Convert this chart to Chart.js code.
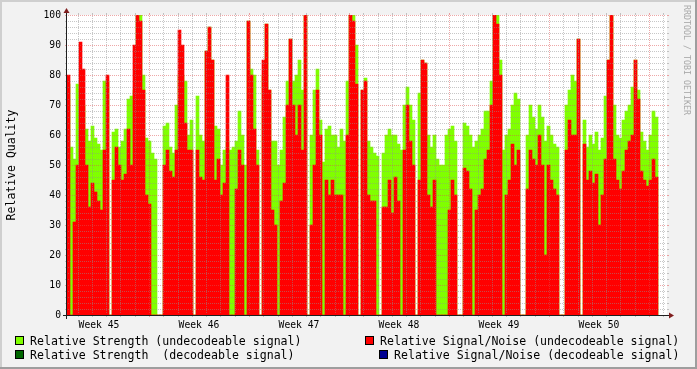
<!DOCTYPE html>
<html><head><meta charset="utf-8">
<script src="https://cdn.jsdelivr.net/npm/chart.js@4/dist/chart.umd.min.js"></script>
<style>
html,body{margin:0;padding:0;background:#F2F2F2;}
#wrap{position:relative;width:697px;height:369px;overflow:hidden;}
canvas{position:absolute;left:0;top:0;}
.t{position:absolute;font-family:"DejaVu Sans Mono",monospace;font-size:11.57px;white-space:pre;color:#000;line-height:13px;}
.bx{position:absolute;width:7px;height:7px;border:1px solid #000;}
.rot{position:absolute;font-family:"DejaVu Sans Mono",monospace;white-space:pre;transform-origin:center center;}
</style></head>
<body><div id="wrap">
<canvas id="c" width="697" height="369"></canvas>
<div class="rot" id="ytitle" style="font-size:11.5px;color:#000;left:-45px;top:158px;width:112px;text-align:center;transform:rotate(-90deg);">Relative Quality</div>
<div class="rot" id="wm" style="font-size:8.3px;color:#A8A8A8;left:632px;top:55px;width:110px;text-align:center;transform:rotate(90deg);">RRDTOOL / TOBI OETIKER</div>
<div class="bx" style="left:15px;top:336px;background:#80FF00"></div>
<div class="t" style="left:30px;top:335px">Relative Strength (undecodeable signal)</div>
<div class="bx" style="left:15px;top:350px;background:#006600"></div>
<div class="t" style="left:30px;top:349px">Relative Strength  (decodeable signal)</div>
<div class="bx" style="left:365px;top:336px;background:#FF0000"></div>
<div class="t" style="left:380px;top:335px">Relative Signal/Noise (undecodeable signal)</div>
<div class="bx" style="left:379px;top:350px;background:#000090"></div>
<div class="t" style="left:394px;top:349px">Relative Signal/Noise (decodeable signal)</div>
</div>
<script>
// ---- data (one value per sample, sampled every 5.04 h) ----
const weekLabels = ["Week 45","Week 46","Week 47","Week 48","Week 49","Week 50"];
const yTicks = [0,10,20,30,40,50,60,70,80,90,100];
const snrUndecodeable = [
80,0,31,50,91,82,50,36,44,41,38,35,55,80,0,45,56,50,45,47,
62,50,90,100,98,75,40,37,0,0,0,0,50,55,48,46,55,95,90,64,
55,55,0,55,46,45,88,96,85,45,52,40,44,80,0,0,42,55,50,0,
98,80,62,50,0,85,97,75,35,30,0,38,44,70,92,70,60,70,55,100,
0,30,50,75,60,0,45,40,45,40,40,40,0,60,100,98,77,0,75,78,
40,38,38,0,0,36,36,45,34,46,38,0,55,70,58,50,0,45,85,84,
40,36,45,0,0,0,0,35,45,40,0,0,49,48,42,0,35,40,42,52,
55,70,100,97,80,0,40,45,57,50,55,0,0,42,55,52,50,60,50,20,
50,45,42,40,0,0,55,65,60,60,92,0,57,45,48,44,47,30,40,52,
85,100,52,45,42,48,55,58,60,85,72,48,45,43,45,52,46];
const strengthUndecodeable = [
77,56,52,77,77,70,62,58,63,59,57,55,78,78,0,61,62,56,58,62,
72,73,75,100,100,80,59,58,54,52,0,0,63,64,56,54,70,80,80,78,
60,65,0,73,60,58,88,96,85,63,62,50,55,58,55,56,58,68,60,50,
98,82,80,55,0,80,97,75,58,58,50,55,66,78,92,78,80,85,75,100,
0,60,75,82,65,51,62,63,60,60,56,62,58,78,100,100,90,0,75,79,
58,56,54,53,0,54,60,62,60,60,57,55,70,76,70,65,0,74,85,84,
60,56,60,52,50,50,60,62,63,58,0,0,64,63,60,56,58,60,62,68,
68,78,100,100,85,55,60,62,70,74,72,0,0,60,70,66,62,70,66,58,
63,60,57,56,0,0,70,75,80,78,92,0,65,56,60,57,61,55,59,73,
85,100,70,60,59,65,68,70,76,85,75,61,58,55,60,68,66];
const strengthDecodeable = [];
const snrDecodeable = [];

// sample time axis, in hours from the start of week 45
const firstSampleHour = 30.24, sampleStepHours = 5.04;
const axisStartHour = 30.24, axisEndHour = 1038.24;
const sampleHours = snrUndecodeable.map((_, i) => firstSampleHour + sampleStepHours * (i + 0.5));
const pts = arr => arr.map((v, i) => ({x: sampleHours[i], y: v}));

const MONO = "'DejaVu Sans Mono', monospace";
const rrdPlugin = {
  id: 'rrd',
  beforeDraw(chart) {
    const c = chart.ctx, a = chart.chartArea;
    c.save();
    c.fillStyle = '#F2F2F2'; c.fillRect(0, 0, 697, 369);
    c.fillStyle = '#CFCFCF'; c.fillRect(0, 0, 697, 2); c.fillRect(0, 0, 2, 369);
    c.fillStyle = '#9E9E9E'; c.fillRect(0, 367, 697, 2); c.fillRect(695, 0, 2, 369);
    c.fillStyle = '#FFFFFF'; c.fillRect(a.left, a.top, a.right - a.left, a.bottom - a.top);
    c.restore();
  },
  afterDatasetsDraw(chart) {
    const c = chart.ctx, a = chart.chartArea, xs = chart.scales.x, ys = chart.scales.y;
    const minor = 'rgba(143,143,143,0.5)', major = 'rgba(222,79,79,0.5)';
    c.save();
    c.lineWidth = 1;
    // horizontal grid
    for (let v = 2; v <= 100; v += 2) {
      const y = Math.round(ys.getPixelForValue(v)) + 0.5;
      const col = v % 10 === 0 ? major : minor;
      c.strokeStyle = col;
      c.setLineDash([]);
      c.beginPath(); c.moveTo(a.left - 2, y); c.lineTo(a.left, y); c.moveTo(a.right, y); c.lineTo(a.right + 2, y); c.stroke();
      c.setLineDash([1, 1]);
      c.beginPath(); c.moveTo(a.left + 1, y); c.lineTo(a.right - 1, y); c.stroke();
    }
    // vertical grid (days / weeks)
    for (let t = 24; t < axisEndHour; t += 24) {
      if (t <= axisStartHour) continue;
      const x = Math.round(xs.getPixelForValue(t)) + 0.5;
      const col = t % 168 === 0 ? major : minor;
      c.strokeStyle = col;
      c.setLineDash([]);
      c.beginPath(); c.moveTo(x, a.bottom); c.lineTo(x, a.bottom + 2); c.moveTo(x, a.top - 2); c.lineTo(x, a.top); c.stroke();
      c.setLineDash([1, 1]);
      c.beginPath(); c.moveTo(x, a.top + 1); c.lineTo(x, a.bottom - 1); c.stroke();
    }
    c.setLineDash([]);
    // axes
    c.strokeStyle = '#1F1F1F';
    const x0 = a.left - 0.5, y0 = a.bottom + 0.5;
    c.beginPath(); c.moveTo(a.left - 4, y0); c.lineTo(a.right + 4, y0); c.stroke();
    c.beginPath(); c.moveTo(x0, a.bottom + 4); c.lineTo(x0, a.top - 4); c.stroke();
    // arrows
    c.fillStyle = '#801F1F';
    c.beginPath(); c.moveTo(a.right + 2, y0 - 3); c.lineTo(a.right + 2, y0 + 3); c.lineTo(a.right + 7, y0); c.closePath(); c.fill();
    c.beginPath(); c.moveTo(x0 - 3, a.top - 2); c.lineTo(x0 + 3, a.top - 2); c.lineTo(x0, a.top - 7); c.closePath(); c.fill();
    c.restore();
  }
};

new Chart(document.getElementById('c'), {
  type: 'bar',
  data: {
    datasets: [
      {label: 'Relative Signal/Noise (decodeable signal)', data: pts(snrDecodeable), backgroundColor: '#000090', order: 0},
      {label: 'Relative Signal/Noise (undecodeable signal)', data: pts(snrUndecodeable), backgroundColor: '#FF0000', order: 1},
      {label: 'Relative Strength  (decodeable signal)', data: pts(strengthDecodeable), backgroundColor: '#006600', order: 2},
      {label: 'Relative Strength (undecodeable signal)', data: pts(strengthUndecodeable), backgroundColor: '#80FF00', order: 3}
    ]
  },
  options: {
    responsive: false, animation: false, devicePixelRatio: 1,
    layout: {padding: {left: 0, top: 15, right: 30, bottom: 0}},
    datasets: {bar: {grouped: false, barPercentage: 1, categoryPercentage: 1, borderWidth: 0}},
    plugins: {legend: {display: false}, tooltip: {enabled: false}},
    scales: {
      x: {
        type: 'linear', min: axisStartHour, max: axisEndHour, offset: false,
        grid: {display: false, drawTicks: false}, border: {display: false},
        afterBuildTicks: s => { s.ticks = weekLabels.map((l, i) => ({value: 84 + 168 * i})); },
        ticks: {autoSkip: false, maxRotation: 0, padding: 5, color: '#000',
          font: {family: MONO, size: 9.7},
          callback: v => weekLabels[Math.round((v - 84) / 168)] || ''},
        afterFit: s => { s.height = 54; }
      },
      y: {
        min: 0, max: 100,
        grid: {display: false, drawTicks: false}, border: {display: false},
        afterBuildTicks: s => { s.ticks = yTicks.map(v => ({value: v})); },
        ticks: {padding: 6, color: '#000', font: {family: MONO, size: 9.7}},
        afterFit: s => { s.width = 67; }
      }
    }
  },
  plugins: [rrdPlugin]
});
</script>
</body></html>
